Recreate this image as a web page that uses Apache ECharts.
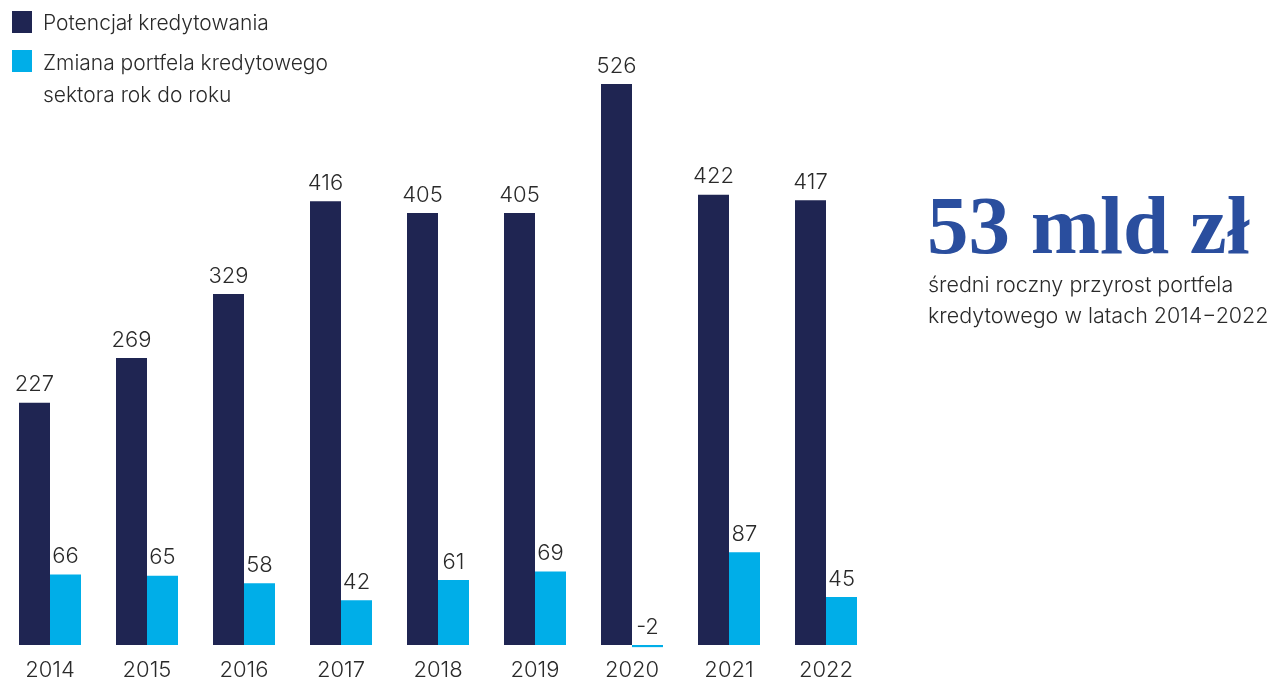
<!DOCTYPE html>
<html><head><meta charset="utf-8">
<script src="https://cdn.jsdelivr.net/npm/echarts@6/dist/echarts.min.js"></script>
<style>html,body{margin:0;padding:0;background:#fff}#c{width:1281px;height:681px}</style>
</head><body><div id="c"></div>
<script>
const years = ['2014','2015','2016','2017','2018','2019','2020','2021','2022'];
const potencjal = [227,269,329,416,405,405,526,422,417];
const zmiana = [66,65,58,42,61,69,-2,87,45];
const seriesNames = ['Potencjał kredytowania','Zmiana portfela kredytowego\nsektora rok do roku'];
const headline = '53 mld zł';
const subText = 'średni roczny przyrost portfela\nkredytowego w latach 2014−2022';

const FONT = 'Inter';
const DARK = '#1f2552', LIGHT = '#00aee8', TXT = '#2a2a2a';
const chart = echarts.init(document.getElementById('c'));
const lbl = {show:true, position:'top', distance:7, color:TXT, fontFamily:FONT, fontWeight:300, fontSize:22};
chart.setOption({
  animation:false,
  grid:{left:1.5, right:1281-874.5, top:5, bottom:36, outerBoundsMode:'none', containLabel:false},
  xAxis:{type:'category', data:years, axisLine:{show:false}, axisTick:{show:false},
    axisLabel:{color:TXT, fontFamily:FONT, fontWeight:300, fontSize:22, margin:14}},
  yAxis:{type:'value', min:0, max:600, show:false, splitLine:{show:false}},
  series:[
    {name:seriesNames[0], type:'bar', data:potencjal, barWidth:31, barGap:'0%', clip:false, itemStyle:{color:DARK}, label:lbl},
    {name:seriesNames[1], type:'bar', data:zmiana, barWidth:31, barGap:'0%', clip:false, itemStyle:{color:LIGHT}, label:lbl}
  ],
  graphic:[
    {type:'rect', left:12, top:11, shape:{width:20, height:22}, style:{fill:DARK}},
    {type:'text', left:43, top:13, style:{text:seriesNames[0], fill:TXT, font:'300 21px '+FONT}},
    {type:'rect', left:12, top:50, shape:{width:20, height:22}, style:{fill:LIGHT}},
    {type:'text', left:43, top:48, style:{text:seriesNames[1], fill:TXT, font:'300 21px '+FONT, lineHeight:32}},
    {type:'text', left:927, top:190, style:{text:headline, fill:'#2a4e9e', font:'bold 83px "Liberation Serif"'}},
    {type:'text', left:928, top:270, style:{text:subText, fill:TXT, font:'300 21.5px '+FONT, lineHeight:31}}
  ]
});
</script></body></html>
